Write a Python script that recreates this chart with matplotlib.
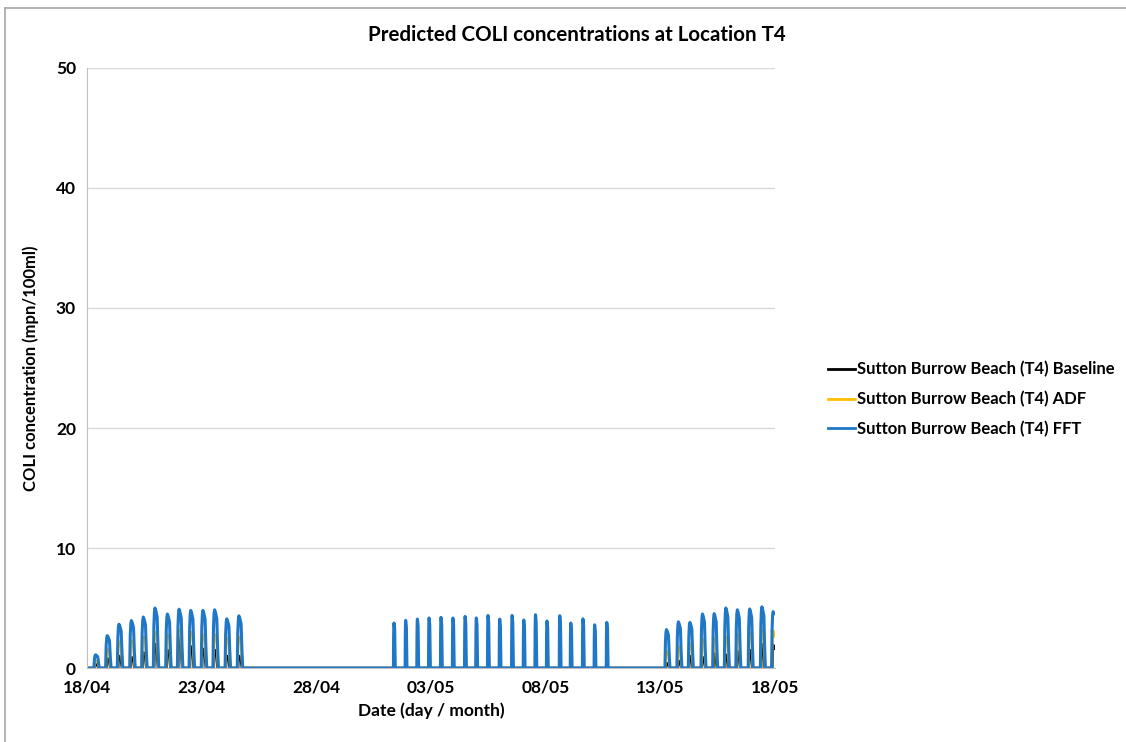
import numpy as np
import matplotlib
matplotlib.use("Agg")
import matplotlib.pyplot as plt
from matplotlib.lines import Line2D

plt.rcParams['font.family'] = ['Lato', 'DejaVu Sans']
plt.rcParams['font.weight'] = 'bold'

# days after 18/04 at which each tidal pulse peaks, and peak values (mpn/100ml)
peak_days = [0.42, 0.93, 1.44, 1.98, 2.50, 3.01, 3.55, 4.06, 4.57, 5.10, 5.61, 6.14, 6.67,
             13.40, 13.91, 14.42, 14.93, 15.45, 15.97, 16.50, 16.99, 17.50, 18.01, 18.55,
             19.06, 19.57, 20.07, 20.63, 21.11, 21.64, 22.15, 22.68,
             25.31, 25.83, 26.33, 26.88, 27.39, 27.90, 28.40, 28.94, 29.47, 29.96]
fft_peaks = [1.1, 2.7, 3.65, 3.95, 4.25, 5.0, 4.5, 4.9, 4.8, 4.8, 4.85, 4.1, 4.35,
             3.75, 3.97, 4.08, 4.17, 4.22, 4.17, 4.3, 4.17, 4.38, 4.08, 4.38,
             4.0, 4.44, 3.92, 4.36, 3.75, 4.1, 3.6, 3.8,
             3.2, 3.85, 3.8, 4.5, 4.53, 5.0, 4.85, 4.92, 5.1, 4.7]
adf_peaks = [0.6, 1.6, 2.2, 2.3, 2.6, 3.0, 2.8, 3.2, 3.0, 2.8, 2.8, 2.5, 2.6,
             1.6, 1.8, 1.9, 2.0, 2.1, 2.0, 2.2, 2.0, 2.2, 1.9, 2.2,
             1.9, 2.2, 1.8, 2.1, 1.7, 1.9, 1.6, 1.7,
             1.4, 1.8, 2.0, 2.4, 2.5, 2.6, 2.8, 3.0, 3.2, 3.1]
base_peaks = [0.3, 0.8, 1.0, 0.9, 1.3, 2.0, 1.5, 2.6, 1.8, 1.6, 1.5, 1.0, 1.0,
              0.5, 0.6, 0.7, 0.7, 0.8, 0.7, 0.9, 0.8, 0.9, 0.7, 0.9,
              1.0, 0.9, 0.7, 0.8, 0.6, 0.7, 0.5, 0.6,
              0.4, 0.6, 1.0, 0.9, 1.2, 1.1, 1.4, 1.5, 2.0, 1.9]
# half-width of each pulse (days)
pulse_width = [0.12] * 13 + [0.04] * 19 + [0.11] * 10

tick_days = [0, 5, 10, 15, 20, 25, 30]
tick_labels = ['18/04', '23/04', '28/04', '03/05', '08/05', '13/05', '18/05']
series_names = ['Sutton Burrow Beach (T4) Baseline', 'Sutton Burrow Beach (T4) ADF',
                'Sutton Burrow Beach (T4) FFT']
colors = ['#000000', '#FFC000', '#1F77C8']

# relative pulse outline (time offset in half-widths, fraction of peak)
shape = [(-1, 0), (-0.8, 0.7), (-0.6, 0.93), (-0.4, 1.0), (-0.1, 0.96),
         (0.4, 0.85), (0.7, 0.35), (1, 0)]


def build_series(peaks, scale):
    t, v = [0.0], [0.0]
    for tp, h, w in zip(peak_days, peaks, pulse_width):
        for dt, f in shape:
            tt = tp + dt * w * scale
            if tt > 30:
                continue
            t.append(tt)
            v.append(h * f)
    if t[-1] < 30 and v[-1] == 0:
        t.append(30.0)
        v.append(0.0)
    return t, v


fig = plt.figure(figsize=(11.26, 7.42), dpi=100)
ax = fig.add_axes([0.0773, 0.0997, 0.6110, 0.8087])

for peaks, scale, c, lw, name in zip([base_peaks, adf_peaks, fft_peaks], [0.7, 0.85, 1.0],
                                     colors, [1.8, 1.8, 2.2], series_names):
    t, v = build_series(peaks, scale)
    ax.plot(t, v, color=c, lw=lw, label=name)

ax.set_xlim(0, 30)
ax.set_ylim(0, 50)
ax.set_yticks([0, 10, 20, 30, 40, 50])
ax.set_xticks(tick_days)
ax.set_xticklabels(tick_labels)
ax.grid(axis='y', color='#D9D9D9', lw=1)
ax.set_axisbelow(True)
for s in ['top', 'right']:
    ax.spines[s].set_visible(False)
ax.spines['left'].set_color('#BFBFBF')
ax.spines['bottom'].set_color('#BFBFBF')
ax.tick_params(length=0, labelsize=12.5, pad=8)
for lab in ax.get_xticklabels() + ax.get_yticklabels():
    lab.set_fontweight('bold')

ax.set_xlabel('Date (day / month)', fontsize=12.5, fontweight='bold', labelpad=5)
ax.set_ylabel('COLI concentration (mpn/100ml)', fontsize=12, fontweight='bold', labelpad=12)
fig.text(0.512, 0.953, 'Predicted COLI concentrations at Location T4', ha='center',
         va='center', fontsize=14.8, fontweight='bold')

handles = [Line2D([], [], color=c, lw=2) for c in colors]
fig.legend(handles, series_names, loc='center left', bbox_to_anchor=(0.722, 0.462),
           frameon=False, handlelength=1.6, handletextpad=0.15,
           labelspacing=0.8, prop={'weight': 'bold', 'size': 12})

# chart area border (top and left edges visible)
fig.add_artist(Line2D([0.0044, 1.0], [0.989, 0.989], color='#A6A6A6', lw=1.2))
fig.add_artist(Line2D([0.0044, 0.0044], [0.0, 0.989], color='#A6A6A6', lw=1.2))

fig.savefig('out.png', dpi=100)
